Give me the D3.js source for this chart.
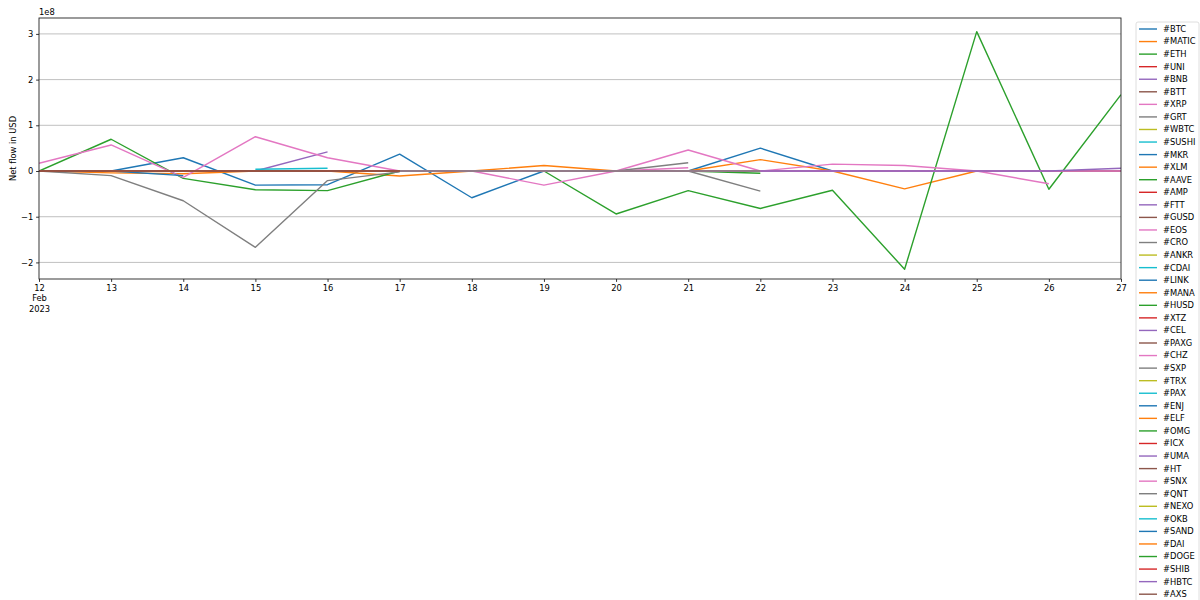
<!DOCTYPE html>
<html><head><meta charset="utf-8">
<script src="https://cdn.jsdelivr.net/npm/d3@7"></script>
<style>
body{margin:0;background:#fff}
svg{display:block}
text{font-family:"DejaVu Sans",sans-serif}
</style>
</head><body>
<svg id="c" width="1200" height="600"></svg>
<script>
// ---- data (net flow in USD), days Feb 12 .. Feb 27 2023 ----
const days = ["2023-02-12","2023-02-13","2023-02-14","2023-02-15","2023-02-16","2023-02-17","2023-02-18","2023-02-19",
              "2023-02-20","2023-02-21","2023-02-22","2023-02-23","2023-02-24","2023-02-25","2023-02-26","2023-02-27"];
const tickers = ["#BTC","#MATIC","#ETH","#UNI","#BNB","#BTT","#XRP","#GRT","#WBTC","#SUSHI","#MKR","#XLM","#AAVE","#AMP",
  "#FTT","#GUSD","#EOS","#CRO","#ANKR","#CDAI","#LINK","#MANA","#HUSD","#XTZ","#CEL","#PAXG","#CHZ","#SXP","#TRX","#PAX",
  "#ENJ","#ELF","#OMG","#ICX","#UMA","#HT","#SNX","#QNT","#NEXO","#OKB","#SAND","#DAI","#DOGE","#SHIB","#HBTC","#AXS"];
const _ = null;
const BTC   = [0, 0, 2.9e7, -3.1e7, -3.0e7, 3.7e7, -5.85e7, 0, 0, 0, 5.0e7, 0, 0, 0, 0, 0];
const MATIC = [0, -4e6, -6e6, 0, 0, -1.1e7, 0, 1.2e7, 0, 0, 2.5e7, 0, -3.9e7, 0, 0, 0];
const ETH   = [0, 6.95e7, -1.6e7, -4.1e7, -4.3e7, 0, 0, 0, -9.4e7, -4.3e7, -8.2e7, -4.2e7, -2.15e8, 3.05e8, -4.0e7, 1.67e8];
const UNI   = [0, 0, 0, 0, 0, 0, 0, 0, 0, 0, 0, 0, 0, 0, 0, 0];
const BNB   = [0, 0, 0, 0, 4.2e7, _, _, _, _, _, _, _, _, _, _, _];
const BTT   = [0, 0, 0, 0, 0, 0, 0, 0, 0, 0, 0, 0, 0, 0, 0, 0];
const XRP   = [1.7e7, 5.7e7, -1.4e7, 7.5e7, 2.9e7, 0, 0, -3.1e7, 0, 4.6e7, 0, 1.5e7, 1.2e7, 0, -2.8e7, _];
const GRT   = [0, -1.0e7, -6.5e7, -1.67e8, -2.1e7, -2e6, _, _, _, _, _, _, _, _, _, _];
const WBTC  = [0, 0, 0, 0, 0, 0, 0, 0, 0, 0, 0, 0, 0, 0, 0, 0];
const SUSHI = [_, _, _, 4e6, 6e6, _, _, _, _, _, _, _, _, _, _, _];
const MKR   = [_, 0, -1.0e7, _, _, _, _, _, _, _, _, _, _, _, _, _];
const XLM   = [0, 0, 0, 0, 0, 0, 0, 0, 0, 0, 0, 0, 0, 0, 0, 0];
const AAVE  = [_, _, _, _, _, 0, 0, 0, 0, 0, -5e6, _, _, _, _, _];
const AMP   = [0, 0, 0, 0, 0, 0, 0, 0, 0, 0, 0, 0, 0, 0, 0, 0];
const FTT   = [0, 0, 0, 0, 0, 0, 0, 0, 0, 0, 0, 0, 0, 0, 0, 0];
const GUSD  = [0, 0, 0, 0, 0, 0, 0, 0, 0, 0, 0, 0, 0, 0, 0, 0];
const EOS   = [_, _, _, _, _, 0, 0, 0, 0, 7e6, _, _, _, _, _, _];
const CRO   = [_, _, _, _, _, 0, 0, 0, 0, 1.8e7, _, _, _, _, _, _];
const ANKR  = [0, 0, 0, 0, 0, 0, 0, 0, 0, 0, 0, 0, 0, 0, 0, 0];
const CDAI  = [0, 0, 0, 0, 0, 0, 0, 0, 0, 0, 0, 0, 0, 0, 0, 0];
const LINK  = [0, 0, 0, 0, 0, 0, 0, 0, 0, 0, 0, 0, 0, 0, 0, 0];
const MANA  = [0, 0, 0, 0, 0, 0, 0, 0, 0, 0, 0, 0, 0, 0, 0, 0];
const HUSD  = [0, 0, 0, 0, 0, 0, 0, 0, 0, 0, 0, 0, 0, 0, 0, 0];
const XTZ   = [0, 0, 0, 0, 0, 0, 0, 0, 0, 0, 0, 0, 0, 0, 0, 0];
const CEL   = [0, 0, 0, 0, 0, 0, 0, 0, 0, 0, 0, 0, 0, 0, 0, 0];
const PAXG  = [0, 0, 0, 0, 0, 0, 0, 0, 0, 0, 0, 0, 0, 0, 0, 0];
const CHZ   = [0, 0, 0, 0, 0, 0, 0, 0, 0, 0, 0, 0, 0, 0, 0, 0];
const SXP   = [_, _, _, _, _, 0, 0, 0, 0, 0, -4.4e7, _, _, _, _, _];
const TRX   = [0, 0, 0, 0, 0, 0, 0, 0, 0, 0, 0, 0, 0, 0, 0, 0];
const PAX   = [0, 0, 0, 0, 0, 0, 0, 0, 0, 0, 0, 0, 0, 0, 0, 0];
const ENJ   = [0, 0, 0, 0, 0, 0, 0, 0, 0, 0, 0, 0, 0, 0, 0, 0];
const ELF   = [0, 0, 0, 0, 0, 0, 0, 0, 0, 0, 0, 0, 0, 0, 0, 0];
const OMG   = [0, 0, 0, 0, 0, 0, 0, 0, 0, 0, 0, 0, 0, 0, 0, 0];
const ICX   = [0, 0, 0, 0, 0, 0, 0, 0, 0, 0, 0, 0, 0, 0, 0, 0];
const UMA   = [0, 0, 0, 0, 0, 0, 0, 0, 0, 0, 0, 0, 0, 0, 0, 0];
const HT    = [0, 0, 0, 0, 0, 0, 0, 0, 0, 0, 0, 0, 0, 0, 0, 0];
const SNX   = [0, 0, 0, 0, 0, 0, 0, 0, 0, 0, 0, 0, 0, 0, 0, 0];
const QNT   = [_, _, _, _, _, 0, 0, 0, 0, 0, 0, _, _, _, _, _];
const NEXO  = [0, 0, 0, 0, 0, 0, _, _, _, _, _, _, _, _, _, _];
const OKB   = [0, 0, 0, 0, 0, 0, _, _, _, _, _, _, _, _, _, _];
const SAND  = [0, 0, 0, 0, 0, 0, _, _, _, _, _, _, _, _, _, _];
const DAI   = [0, 0, 0, 0, 0, 0, _, _, _, _, _, _, _, _, _, _];
const DOGE  = [0, 0, 0, 0, 0, 0, _, _, _, _, _, _, _, _, _, _];
const SHIB  = [0, 0, 0, 0, 0, 0, _, _, _, _, _, _, _, _, _, _];
const HBTC  = [_, _, _, _, _, _, _, _, _, _, 0, 0, 0, 0, 0, 6e6];
const AXS   = [0, 0, 0, 0, 0, 0, _, _, _, _, _, _, _, _, _, _];
const seriesValues = [BTC,MATIC,ETH,UNI,BNB,BTT,XRP,GRT,WBTC,SUSHI,MKR,XLM,AAVE,AMP,FTT,GUSD,EOS,CRO,ANKR,CDAI,LINK,MANA,
  HUSD,XTZ,CEL,PAXG,CHZ,SXP,TRX,PAX,ENJ,ELF,OMG,ICX,UMA,HT,SNX,QNT,NEXO,OKB,SAND,DAI,DOGE,SHIB,HBTC,AXS];
const yTicks = [-2e8, -1e8, 0, 1e8, 2e8, 3e8];
const palette = ["#1f77b4","#ff7f0e","#2ca02c","#d62728","#9467bd","#8c564b","#e377c2","#7f7f7f","#bcbd22","#17becf"];

// ---- layout ----
const L = 39, R = 1121, T = 18, B = 279;
const FS = 8.33;
const svg = d3.select("#c");
svg.append("rect").attr("width",1200).attr("height",600).attr("fill","#fff");

const parse = d3.utcParse("%Y-%m-%d");
const dates = days.map(parse);
const x = d3.scaleUtc().domain(d3.extent(dates)).range([L, R]);
const y = d3.scaleLinear().domain([-2.363e8, 3.348e8]).range([B, T]);

// grid
svg.append("g").selectAll("line").data(yTicks).join("line")
  .attr("x1", L).attr("x2", R)
  .attr("y1", d => y(d)).attr("y2", d => y(d))
  .attr("stroke", "#b0b0b0").attr("stroke-width", 0.8);

// lines
const clip = svg.append("clipPath").attr("id","clip").append("rect")
  .attr("x", L).attr("y", T).attr("width", R-L).attr("height", B-T);
const line = d3.line().defined(d => d != null)
  .x((d,i) => x(dates[i])).y(d => y(d));
const lg = svg.append("g").attr("clip-path","url(#clip)");
seriesValues.forEach((vals, i) => {
  lg.append("path").datum(vals)
    .attr("d", line)
    .attr("fill","none")
    .attr("stroke", palette[i % 10])
    .attr("stroke-width", 1.4)
    .attr("stroke-linejoin","round");
});

// axes
const fmt = d3.format("d");
const xAxis = d3.axisBottom(x).tickValues(dates).tickSize(2.9).tickPadding(2.9)
  .tickFormat(d => d3.utcFormat("%-d")(d));
const gx = svg.append("g").attr("transform",`translate(0,${B})`).call(xAxis);
gx.select(".domain").remove();
gx.selectAll("line").attr("stroke","#000").attr("stroke-width",0.8);
gx.selectAll("text").attr("font-size",FS).attr("fill","#000")
  .attr("font-family","DejaVu Sans");
gx.selectAll(".tick").filter((d,i) => i === 0).select("text").each(function(d){
  const t = d3.select(this);
  t.text(null);
  t.append("tspan").attr("x",0).attr("dy","0.71em").text(d3.utcFormat("%-d")(d));
  t.append("tspan").attr("x",0).attr("dy","1.25em").text("Feb");
  t.append("tspan").attr("x",0).attr("dy","1.25em").text("2023");
}).attr("dy", null);

const yAxis = d3.axisLeft(y).tickValues(yTicks).tickSize(2.9).tickPadding(2.9)
  .tickFormat(d => fmt(d / 1e8));
const gy = svg.append("g").attr("transform",`translate(${L},0)`).call(yAxis);
gy.select(".domain").remove();
gy.selectAll("line").attr("stroke","#000").attr("stroke-width",0.8);
gy.selectAll("text").attr("font-size",FS).attr("fill","#000")
  .attr("font-family","DejaVu Sans");

// spines
svg.append("rect").attr("x",L).attr("y",T).attr("width",R-L).attr("height",B-T)
  .attr("fill","none").attr("stroke","#222").attr("stroke-width",0.9);

// offset text and axis label
svg.append("text").attr("x", L).attr("y", 15.3).attr("font-size", FS).text("1e8");
svg.append("text").attr("transform",`translate(15.5,${(T+B)/2}) rotate(-90)`)
  .attr("text-anchor","middle").attr("font-size",FS).text("Net flow in USD");

// legend
const lx = 1136, ly = 22, rowH = 12.56;
const leg = svg.append("g");
leg.append("rect").attr("x",lx).attr("y",ly).attr("width",63)
  .attr("height", 7 + tickers.length*rowH).attr("rx",2)
  .attr("fill","#fff").attr("fill-opacity",0.8)
  .attr("stroke","#d5d5d5").attr("stroke-width",0.8);
tickers.forEach((name, i) => {
  const cy = 29 + i*rowH;
  leg.append("line").attr("x1",lx+3).attr("x2",lx+21)
    .attr("y1",cy).attr("y2",cy)
    .attr("stroke",palette[i % 10]).attr("stroke-width",1.4);
  leg.append("text").attr("x",lx+27).attr("y",cy).attr("dy","0.35em")
    .attr("font-size",FS).text(name);
});
</script>
</body></html>
